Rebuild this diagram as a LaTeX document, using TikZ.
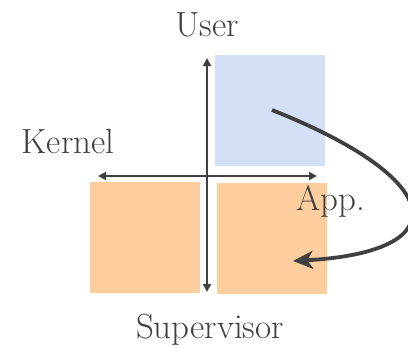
\documentclass[tikz,border=0pt]{standalone}
\usepackage{fontspec}
\usetikzlibrary{arrows.meta}
\definecolor{ink}{HTML}{404040}
\definecolor{userblue}{HTML}{D3E0F5}
\definecolor{suporange}{HTML}{FDCE9D}
\begin{document}
\begin{tikzpicture}[x=1pt,y=-1pt,
  lbl/.style={text=ink,font=\fontsize{35}{42}\selectfont,inner sep=0pt,anchor=base},
  quad/.style={minimum width=110pt,minimum height=111pt,inner sep=0pt,anchor=north west,draw=none},
  axis/.style={ink,line width=1.8pt,{Triangle[length=8pt,width=8pt]}-{Triangle[length=8pt,width=8pt]}},
  jump/.style={ink,line width=3.8pt,-{Stealth[length=20pt,width=18pt,inset=6pt]}}]
\useasboundingbox (0,0) rectangle (408,348);
\node[quad,fill=userblue] (ua) at (215,55) {};
\node[quad,fill=suporange] (sk) at (90,182) {};
\node[quad,fill=suporange] (sa) at (217,183) {};
\coordinate (vtop) at (207,58);
\coordinate (vbot) at (207,292);
\coordinate (hl) at (98,176);
\coordinate (hr) at (317,176);
\draw[axis] (vbot) -- (vtop);
\draw[axis] (hl) -- (hr);
\node[lbl] (user) at (207,36) {User};
\node[lbl] (kernel) at (68,153) {Kernel};
\node[lbl] (app) at (331,210) {App.};
\node[lbl] (sup) at (210,338) {Supervisor};
\coordinate (cs) at (272,110);
\coordinate (ce) at (293,261);
\draw[jump] (cs) .. controls (448,180) and (458,252) .. (ce);
\end{tikzpicture}
\end{document}
